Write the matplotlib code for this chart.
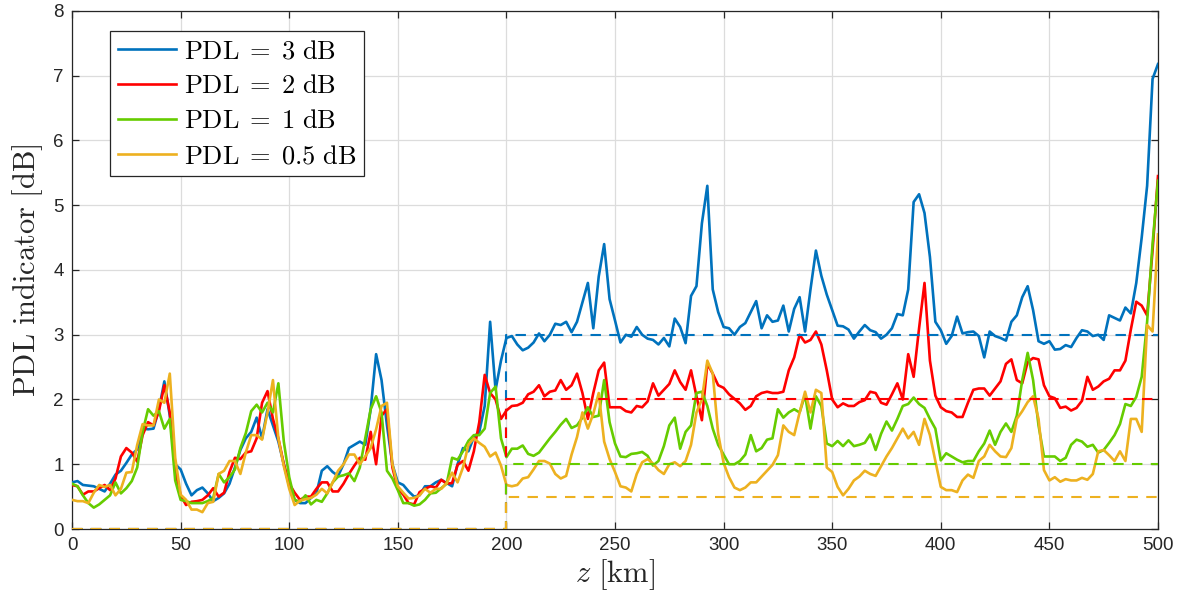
import numpy as np
import matplotlib
matplotlib.use("Agg")
import matplotlib.pyplot as plt

# ---------------- data ----------------
z_km = np.arange(0, 500.01, 2.5)

pdl_3dB = [
0.72,0.74,0.68,0.67,0.66,0.62,0.58,0.70,0.84,0.90,1.02,1.15,1.23,1.55,1.54,1.55,1.85,2.28,1.75,1.00,
0.92,0.70,0.52,0.60,0.64,0.55,0.43,0.48,0.55,0.70,0.95,1.22,1.40,1.50,1.72,1.40,1.85,1.60,1.35,1.00,
0.66,0.45,0.40,0.40,0.48,0.55,0.90,0.97,0.88,0.82,1.00,1.25,1.30,1.35,1.30,1.85,2.70,2.30,1.60,1.00,
0.72,0.68,0.58,0.50,0.52,0.66,0.66,0.72,0.76,0.71,0.66,1.00,1.25,1.20,1.42,1.50,1.90,3.20,2.15,2.60,
2.95,2.98,2.85,2.76,2.80,2.88,3.02,2.90,3.00,3.17,3.15,3.20,3.04,3.20,3.50,3.80,3.10,3.90,4.40,3.55,
3.22,2.88,3.00,2.97,3.12,3.00,2.94,2.92,2.85,2.95,2.82,3.25,3.12,2.87,3.60,3.75,4.72,5.30,3.70,3.35,
3.12,3.10,3.00,3.12,3.18,3.35,3.52,3.10,3.30,3.20,3.22,3.45,3.05,3.40,3.58,3.05,3.70,4.30,3.91,3.62,
3.38,3.14,3.13,3.08,2.94,3.05,3.15,3.07,3.04,2.94,3.00,3.10,3.32,3.30,3.70,5.05,5.17,4.88,4.20,3.20,
3.07,2.86,2.98,3.28,3.02,3.04,3.05,2.98,2.65,3.05,2.98,2.95,2.91,3.20,3.30,3.58,3.75,3.38,2.90,2.86,
2.90,2.77,2.78,2.84,2.81,2.95,3.07,3.05,2.98,3.00,2.92,3.30,3.26,3.22,3.42,3.33,3.80,4.50,5.30,6.95,
7.18]

pdl_2dB = [
0.68,0.66,0.53,0.58,0.58,0.63,0.68,0.60,0.78,1.12,1.25,1.18,1.04,1.45,1.65,1.60,1.82,2.22,1.80,0.90,
0.52,0.37,0.42,0.43,0.45,0.52,0.63,0.50,0.56,0.88,1.10,1.08,1.18,1.20,1.40,1.95,2.13,1.70,1.40,1.00,
0.70,0.56,0.45,0.50,0.50,0.62,0.72,0.72,0.58,0.58,0.70,0.85,0.98,1.10,1.07,1.50,1.00,1.75,1.85,0.95,
0.62,0.53,0.40,0.38,0.57,0.62,0.66,0.64,0.76,0.70,0.71,0.99,1.05,0.90,1.20,1.65,2.38,2.10,2.00,1.70,
1.83,1.90,1.91,1.95,2.08,2.12,2.22,2.05,2.12,2.14,2.30,2.15,2.22,2.40,2.10,1.70,2.10,2.45,2.57,1.88,
1.88,1.88,1.82,1.80,1.90,1.88,1.97,2.25,2.06,2.15,2.24,2.45,2.27,2.15,2.45,2.05,1.68,2.55,2.40,2.22,
2.18,2.08,2.01,1.94,1.84,1.90,2.05,2.10,2.12,2.10,2.10,2.12,2.45,2.65,3.00,2.88,2.92,3.05,2.85,2.45,
2.00,1.88,1.94,1.90,1.90,1.96,1.99,2.12,2.10,1.95,1.92,2.08,2.25,2.00,2.70,2.35,3.10,3.80,2.60,2.06,
1.88,1.82,1.80,1.73,1.73,1.95,2.15,2.17,2.17,2.06,2.17,2.28,2.55,2.62,2.30,2.25,2.58,2.64,2.62,2.22,
2.05,2.02,1.87,1.89,1.83,1.87,1.98,2.35,2.15,2.20,2.28,2.32,2.45,2.45,2.60,3.08,3.51,3.45,3.30,4.30,
5.45]

pdl_1dB = [
0.70,0.66,0.52,0.40,0.33,0.38,0.45,0.52,0.72,0.55,0.63,0.74,0.95,1.50,1.85,1.75,1.82,1.55,1.70,0.75,
0.45,0.43,0.40,0.40,0.40,0.43,0.48,0.85,0.72,0.80,0.92,1.25,1.48,1.82,1.92,1.80,1.95,1.80,2.25,1.35,
0.80,0.45,0.42,0.52,0.38,0.45,0.42,0.55,0.72,0.81,0.83,0.86,0.74,0.95,1.40,1.85,2.05,1.80,0.90,0.78,
0.60,0.40,0.40,0.36,0.38,0.45,0.55,0.56,0.63,0.70,1.10,1.07,1.20,1.36,1.45,1.45,1.55,2.10,2.20,1.40,
1.11,1.24,1.24,1.29,1.16,1.13,1.18,1.29,1.40,1.50,1.61,1.70,1.56,1.60,1.72,1.88,1.73,1.75,2.30,1.65,
1.32,1.12,1.11,1.16,1.17,1.19,1.13,0.98,1.05,1.28,1.60,1.72,1.24,1.50,1.60,2.10,2.12,1.90,1.55,1.30,
1.15,1.00,1.00,1.05,1.15,1.45,1.20,1.25,1.38,1.40,1.85,1.72,1.80,1.85,1.80,2.07,1.55,2.05,1.90,1.32,
1.28,1.36,1.28,1.37,1.28,1.30,1.33,1.46,1.22,1.47,1.66,1.52,1.70,1.90,1.93,2.03,1.93,1.87,1.70,1.55,
1.06,1.17,1.12,1.07,1.03,1.05,1.05,1.20,1.32,1.52,1.30,1.50,1.63,1.50,1.75,2.30,2.72,2.30,1.60,1.12,
1.12,1.12,1.05,1.10,1.30,1.38,1.35,1.27,1.30,1.18,1.22,1.33,1.45,1.62,1.93,1.90,2.04,2.35,3.20,4.40,
5.38]

pdl_05dB = [
0.45,0.43,0.43,0.40,0.56,0.68,0.65,0.68,0.52,0.62,0.87,0.88,1.30,1.62,1.60,1.60,2.00,1.95,2.40,1.10,
0.53,0.45,0.30,0.30,0.26,0.40,0.42,0.85,0.90,1.05,1.05,0.85,1.18,1.45,1.45,1.38,1.80,2.30,1.40,0.97,
0.62,0.37,0.44,0.46,0.48,0.53,0.62,0.55,0.72,0.90,1.00,1.15,1.15,1.00,1.12,1.25,1.54,1.90,1.95,1.00,
0.66,0.56,0.47,0.48,0.52,0.62,0.56,0.62,0.62,0.71,0.87,0.72,0.95,1.30,1.40,1.33,1.27,1.12,1.18,0.98,
0.68,0.66,0.68,0.78,0.80,0.92,1.05,1.05,1.01,0.85,0.78,0.82,1.15,1.42,1.80,1.55,1.78,2.10,1.35,1.08,
0.88,0.66,0.64,0.58,0.85,1.03,1.08,1.01,0.91,0.85,1.00,1.03,0.97,1.05,1.30,1.80,2.00,2.60,2.40,1.47,
1.02,0.80,0.64,0.60,0.64,0.72,0.72,0.81,0.90,0.99,1.14,1.60,1.50,1.45,1.80,2.12,1.80,2.15,2.10,0.95,
0.88,0.65,0.52,0.62,0.75,0.81,0.90,0.85,0.82,0.97,1.12,1.25,1.40,1.55,1.40,1.50,1.30,1.70,1.45,1.05,
0.65,0.60,0.60,0.57,0.75,0.84,0.79,1.05,1.12,1.30,1.20,1.12,1.11,1.25,1.70,1.82,1.96,2.05,1.70,0.91,
0.75,0.80,0.73,0.77,0.75,0.75,0.79,0.76,0.85,1.20,1.22,1.14,1.05,1.20,1.05,1.70,1.70,1.50,3.15,3.05,
4.55]

series = [pdl_3dB, pdl_2dB, pdl_1dB, pdl_05dB]
pdl_targets = [3, 2, 1, 0.5]
labels = [r'$\mathrm{PDL}\;=\;3\ \mathrm{dB}$', r'$\mathrm{PDL}\;=\;2\ \mathrm{dB}$',
          r'$\mathrm{PDL}\;=\;1\ \mathrm{dB}$', r'$\mathrm{PDL}\;=\;0.5\ \mathrm{dB}$']
colors = ['#0072BD', '#FF0000', '#66CC00', '#EDB120']
z_switch = 200
z_end = 500

# ---------------- plot ----------------
plt.rcParams['mathtext.fontset'] = 'cm'
plt.rcParams['font.family'] = ['Liberation Sans', 'DejaVu Sans']

fig = plt.figure(figsize=(11.85, 6.01), dpi=100)
ax = fig.add_axes([0.0608, 0.1198, 0.9164, 0.8619])

axcol = '#262626'
handles = []
for y, c, lab in zip(series, colors, labels):
    h, = ax.plot(z_km, y, color=c, lw=1.9, label=lab, zorder=3)
    handles.append(h)
for c, t in zip(colors, pdl_targets):
    ax.plot([0, z_switch, z_switch, z_end], [0, 0, t, t], color=c, lw=1.5,
            ls=(0, (5, 4)), zorder=3)

ax.set_xlim(0, 500)
ax.set_ylim(0, 8)
ax.set_xticks(np.arange(0, 501, 50))
ax.set_yticks(np.arange(0, 9, 1))
ax.grid(True, color='#dcdcdc', lw=0.9, zorder=0)
ax.tick_params(direction='in', top=True, right=True, length=5, width=0.9,
               colors=axcol, labelsize=13.5, pad=6)
for s in ax.spines.values():
    s.set_color(axcol)
    s.set_linewidth(0.9)

ax.set_xlabel(r'$z\ \mathrm{[km]}$', fontsize=22, color=axcol, labelpad=2)
ax.set_ylabel(r'$\mathrm{PDL\ indicator\ [dB]}$', fontsize=22, color=axcol, labelpad=6)

leg = ax.legend(handles=handles, loc='upper left', bbox_to_anchor=(0.035, 0.961),
                fontsize=19, frameon=True, fancybox=False, edgecolor=axcol,
                framealpha=1, handlelength=2.2, handletextpad=0.3,
                borderpad=0.3, labelspacing=0.42, borderaxespad=0)
leg.get_frame().set_linewidth(0.9)

fig.savefig('out.png', dpi=100)
